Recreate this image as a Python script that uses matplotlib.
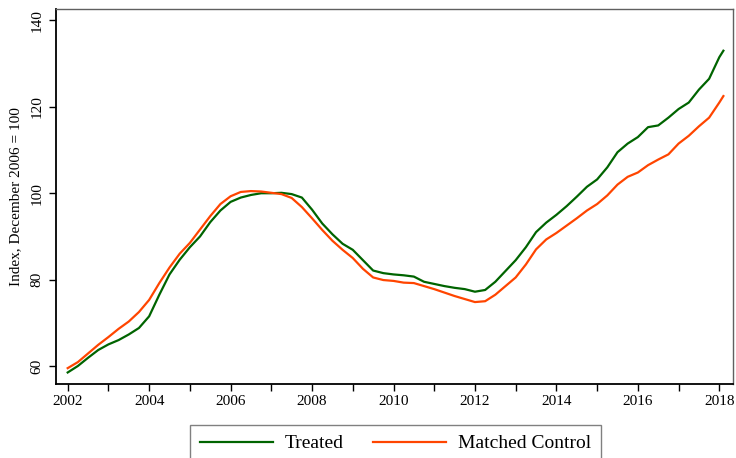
import matplotlib
matplotlib.use("Agg")
import matplotlib.pyplot as plt
import numpy as np

plt.rcParams['font.family'] = ['Liberation Serif', 'DejaVu Serif']

years = [2002 + 0.25 * i for i in range(65)] + [2018.1]

treated = [
    58.5, 60.0, 61.9, 63.7,
    65.0, 66.0, 67.3, 68.8,
    71.5, 76.5, 81.2, 84.6,
    87.5, 90.0, 93.3, 96.0,
    98.0, 99.0, 99.6, 100.0,
    100.0, 100.1, 99.8, 99.0,
    96.2, 93.0, 90.5, 88.3,
    86.9, 84.5, 82.1, 81.5,
    81.2, 81.0, 80.7, 79.5,
    79.0, 78.5, 78.1, 77.8,
    77.2, 77.6, 79.5, 82.0,
    84.5, 87.5, 91.0, 93.2,
    95.0, 97.0, 99.2, 101.5,
    103.2, 106.0, 109.5, 111.5,
    113.0, 115.3, 115.7, 117.5,
    119.5, 121.0, 124.0, 126.5,
    131.5, 133.0,
]

control = [
    59.5, 60.9, 62.9, 64.9,
    66.7, 68.6, 70.3, 72.5,
    75.3, 79.2, 82.8, 86.0,
    88.5, 91.6, 94.7, 97.5,
    99.3, 100.3, 100.5, 100.4,
    100.1, 99.8, 98.9, 96.8,
    94.2, 91.5, 89.0, 86.9,
    85.0, 82.5, 80.5, 79.9,
    79.7, 79.3, 79.2, 78.5,
    77.8, 77.0, 76.2, 75.5,
    74.8, 75.0, 76.5, 78.5,
    80.5, 83.5, 87.0, 89.3,
    90.8, 92.5, 94.2, 96.0,
    97.5, 99.5, 102.0, 103.8,
    104.8, 106.5, 107.8, 109.0,
    111.5, 113.3, 115.5, 117.5,
    121.0, 122.5,
]

series_labels = ["Treated", "Matched Control"]
series_colors = ["#006400", "#FF4500"]
ylabel = "Index, December 2006 = 100"
xticks_major = list(range(2002, 2019, 2))
xticks_minor = list(range(2003, 2018, 2))
yticks = [60, 80, 100, 120, 140]

fig = plt.figure(figsize=(7.36, 4.58), dpi=100)
ax = fig.add_axes([56/736, 1 - 384/458, (733 - 56)/736, (384 - 9)/458])

ax.plot(years, treated, color=series_colors[0], lw=1.6, label=series_labels[0])
ax.plot(years, control, color=series_colors[1], lw=1.6, label=series_labels[1])

ax.set_xlim(2001.713, 2018.336)
ax.set_ylim(55.83, 142.66)

ax.set_xticks(xticks_major)
ax.set_xticks(xticks_minor, minor=True)
ax.set_yticks(yticks)
ax.tick_params(axis='both', which='both', direction='out', length=5, width=1, labelsize=11, color='black')
ax.tick_params(axis='x', which='major', pad=3)
for lab in ax.get_yticklabels():
    lab.set_rotation(90)
    lab.set_va('center')
ax.tick_params(axis='y', pad=4)

ax.set_ylabel(ylabel, fontsize=11, labelpad=6)

for s in ['left', 'bottom']:
    ax.spines[s].set_color('black')
    ax.spines[s].set_linewidth(1.3)
for s in ['top', 'right']:
    ax.spines[s].set_color('#606060')
    ax.spines[s].set_linewidth(1.0)

leg = fig.legend(loc='upper center', bbox_to_anchor=(395.5/736, 1 - 425/458),
                 ncol=2, fontsize=14, frameon=True, fancybox=False,
                 handlelength=3.76, handletextpad=0.6, columnspacing=1.5,
                 borderpad=0.5, borderaxespad=0)
leg.get_frame().set_edgecolor('#606060')
leg.get_frame().set_linewidth(1.0)

fig.savefig("out.png", dpi=100)
